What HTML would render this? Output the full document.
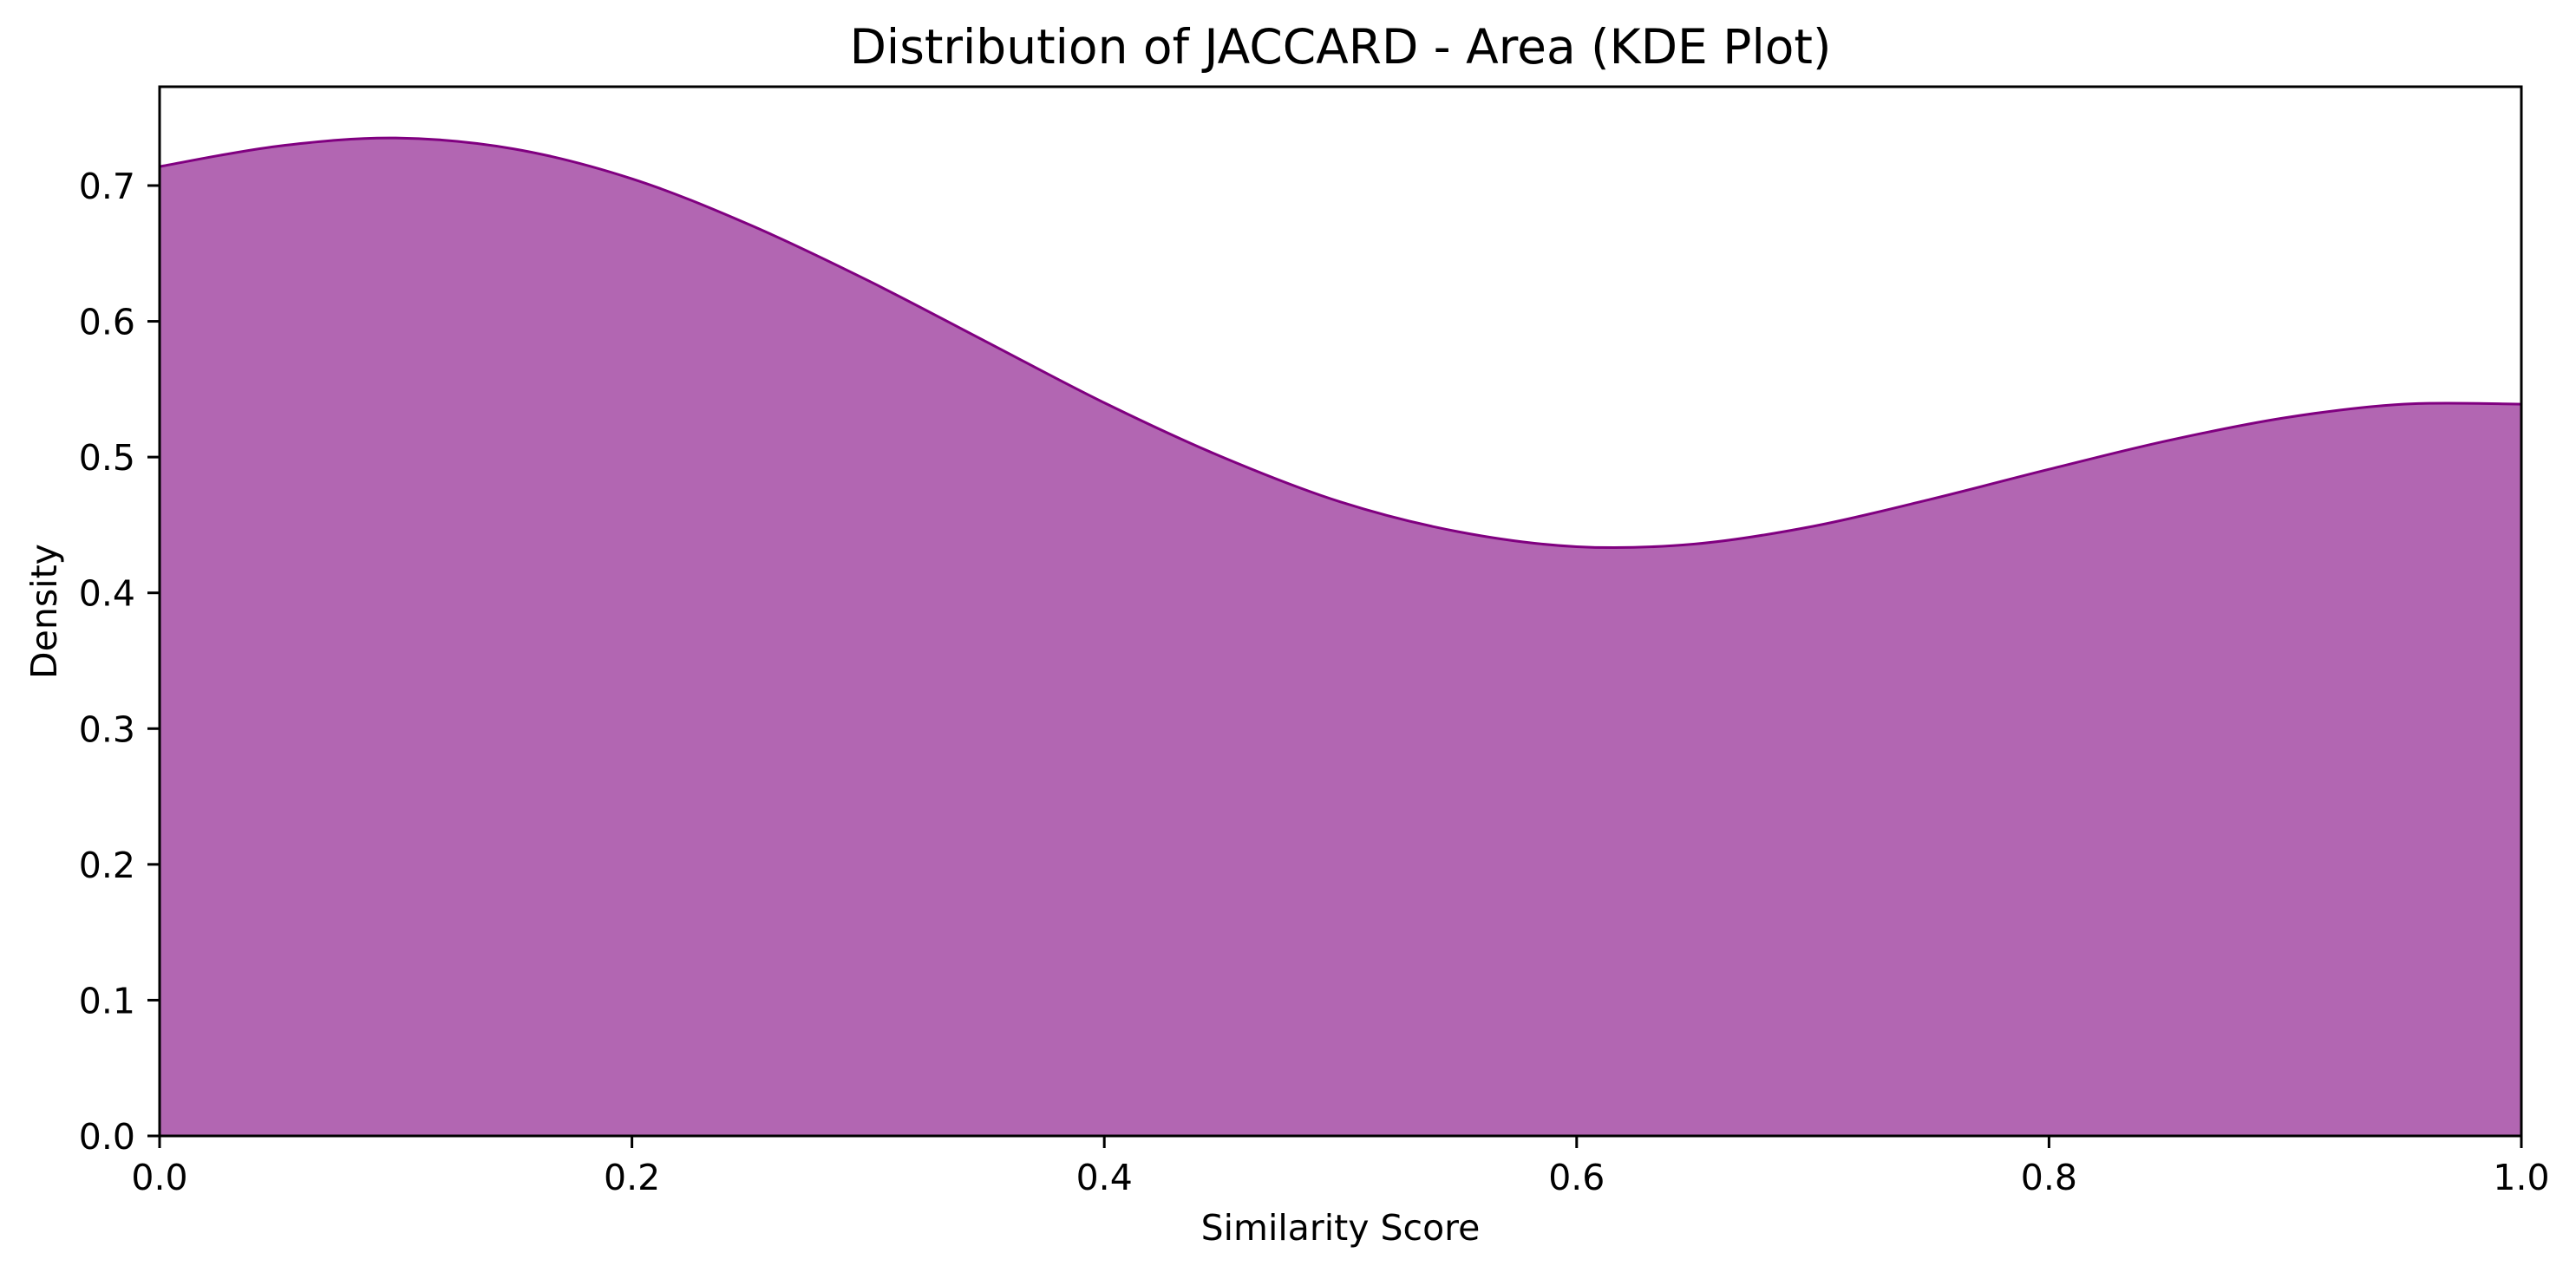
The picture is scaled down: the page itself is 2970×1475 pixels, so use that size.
<!DOCTYPE html>
<html><head><meta charset="utf-8"><style>
html,body{margin:0;padding:0;background:#fff}
svg text{font-family:"DejaVu Sans","Liberation Sans",sans-serif;fill:#000}
</style></head><body>
<svg width="2970" height="1470" viewBox="0 0 2970 1470">
<g id="plot"></g>
</svg>
<script>
const xs=[0,0.05,0.1,0.15,0.2,0.25,0.3,0.35,0.4,0.45,0.5,0.55,0.6,0.65,0.7,0.75,0.8,0.85,0.9,0.95,1.0];
const density=[0.714,0.729,0.735,0.727,0.705,0.671,0.630,0.585,0.540,0.500,0.467,0.445,0.434,0.436,0.449,0.469,0.491,0.512,0.529,0.539,0.539];
const xTicks=[0,0.2,0.4,0.6,0.8,1.0];
const xTickLabels=["0.0","0.2","0.4","0.6","0.8","1.0"];
const yTicks=[0,0.1,0.2,0.3,0.4,0.5,0.6,0.7];
const yTickLabels=["0.0","0.1","0.2","0.3","0.4","0.5","0.6","0.7"];
const L=184,R=2907,T=100,B=1310,YMAX=0.7728;
const sx=v=>L+(R-L)*v, sy=v=>B-(B-T)*v/YMAX;
const NS="http://www.w3.org/2000/svg";
const g=document.getElementById('plot');
function mk(t,a,p){const e=document.createElementNS(NS,t);for(const k in a)e.setAttribute(k,a[k]);(p||g).appendChild(e);return e;}
const pts=xs.map((x,i)=>[sx(x),sy(density[i])]);
let d=`M${pts[0][0]},${pts[0][1]}`;
for(let i=0;i<pts.length-1;i++){const p0=pts[Math.max(0,i-1)],p1=pts[i],p2=pts[i+1],p3=pts[Math.min(pts.length-1,i+2)];
d+=` C${p1[0]+(p2[0]-p0[0])/6},${p1[1]+(p2[1]-p0[1])/6} ${p2[0]-(p3[0]-p1[0])/6},${p2[1]-(p3[1]-p1[1])/6} ${p2[0]},${p2[1]}`;}
const area=mk('path',{d:d+` L${sx(1)},${sy(0)} L${sx(0)},${sy(0)} Z`,fill:'#b266b2',stroke:'none'});


const line=mk('path',{d:d,fill:'none',stroke:'#800080','stroke-width':3});


const frame=mk('rect',{x:L,y:T,width:R-L,height:B-T,fill:'none',stroke:'#000','stroke-width':3});


xTicks.forEach((v,i)=>{
  const t=mk('line',{x1:sx(v),x2:sx(v),y1:B,y2:B+14,stroke:'#000','stroke-width':3});
  
  
  const l=mk('text',{x:sx(v),y:B+62,'text-anchor':'middle','font-size':41});
  l.textContent=xTickLabels[i];
  
  
});
yTicks.forEach((v,i)=>{
  const t=mk('line',{x1:L-14,x2:L,y1:sy(v),y2:sy(v),stroke:'#000','stroke-width':3});
  
  
  const l=mk('text',{x:L-28,y:sy(v)+15,'text-anchor':'end','font-size':41});
  l.textContent=yTickLabels[i];
  
  
});
const title=mk('text',{x:(L+R)/2,y:73,'text-anchor':'middle','font-size':55});
title.textContent='Distribution of JACCARD - Area (KDE Plot)';


const xl=mk('text',{x:(L+R)/2,y:1430,'text-anchor':'middle','font-size':41});
xl.textContent='Similarity Score';


const yl=mk('text',{x:0,y:0,'text-anchor':'middle','font-size':41,transform:`translate(65,${(T+B)/2}) rotate(-90)`});
yl.textContent='Density';


</script>
</body></html>
